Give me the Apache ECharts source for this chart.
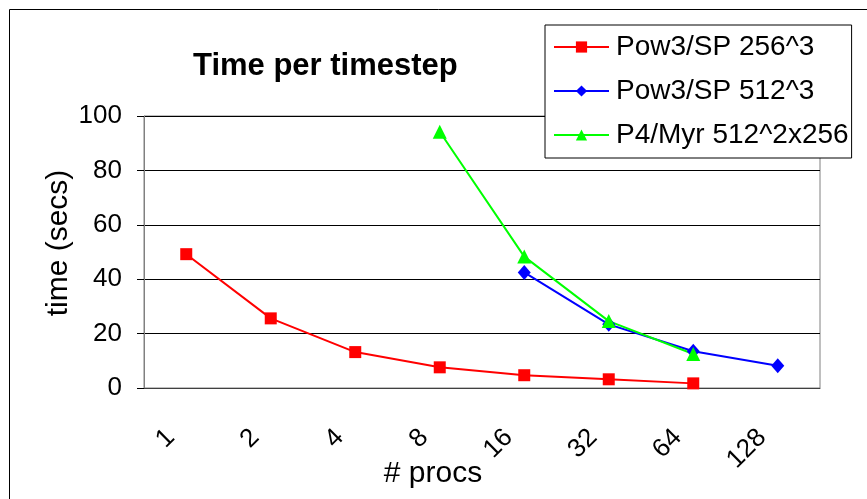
<!DOCTYPE html>
<html>
<head>
<meta charset="utf-8">
<script src="https://cdn.jsdelivr.net/npm/echarts@6/dist/echarts.min.js"></script>
<style>
  html, body { margin: 0; padding: 0; background: #fff; }
  #chart { width: 867px; height: 499px; }
</style>
</head>
<body>
<div id="chart"></div>
<script>
// procs (log2 categories)
const procs = ['1', '2', '4', '8', '16', '32', '64', '128']
const pow3Sp256 = [49.2, 25.6, 13.2, 7.6, 4.7, 3.2, 1.7, null]
const pow3Sp512 = [null, null, null, null, 42.5, 23.4, 13.5, 8.2]
const p4Myr512 = [null, null, null, 94.2, 48.3, 24.6, 12.5, null]
const yTicks = { min: 0, max: 100, interval: 20 }

const font = '"Liberation Sans", Arial, sans-serif'
const chart = echarts.init(document.getElementById('chart'))

const option = {
  animation: false,
  backgroundColor: '#fff',
  title: {
    text: 'Time per timestep',
    left: 188,
    top: 46,
    textStyle: { fontFamily: font, fontSize: 31, fontWeight: 'bold', color: '#000' }
  },
  legend: {
    left: 545,
    top: 25,
    orient: 'vertical',
    padding: [8, 3, 9, 8],
    itemWidth: 55,
    itemHeight: 14,
    itemGap: 16,
    borderColor: '#000',
    borderWidth: 1,
    backgroundColor: '#fff',
    textStyle: { fontFamily: font, fontSize: 28, color: '#000', lineHeight: 28, padding: [0, 0, 0, 2] },
    data: ['Pow3/SP 256^3', 'Pow3/SP 512^3', 'P4/Myr 512^2x256']
  },
  grid: {
    left: 144, right: 47, top: 116, bottom: 111,
    containLabel: false,
    outerBoundsMode: 'none',
    show: true, borderColor: '#808080', borderWidth: 1
  },
  xAxis: {
    type: 'category',
    data: procs,
    boundaryGap: true,
    name: '# procs',
    nameLocation: 'middle',
    nameGap: 71,
    nameMoveOverlap: false,
    nameTextStyle: { fontFamily: font, fontSize: 30, color: '#000', padding: [0, 98, 0, 0] },
    axisLine: { lineStyle: { color: '#404040', width: 1 } },
    axisTick: { length: 7, lineStyle: { color: '#000' } },
    axisLabel: {
      interval: 0, rotate: 45, margin: 30,
      padding: [0, 22, 40, 0],
      fontFamily: font, fontSize: 26, color: '#000'
    },
    splitLine: { show: false }
  },
  yAxis: {
    type: 'value',
    min: yTicks.min, max: yTicks.max, interval: yTicks.interval,
    name: 'time (secs)',
    nameLocation: 'middle',
    nameGap: 70,
    nameMoveOverlap: false,
    nameTextStyle: { fontFamily: font, fontSize: 30, color: '#000', padding: [0, 0, 0, 18] },
    axisLine: { show: true, lineStyle: { color: '#808080', width: 1 } },
    axisTick: { show: true, length: 7, lineStyle: { color: '#000' } },
    axisLabel: { margin: 22, fontFamily: font, fontSize: 26, color: '#000' },
    splitLine: { lineStyle: { color: '#000', width: 1 } }
  },
  graphic: [{
    type: 'rect', z: -10, silent: true,
    shape: { x: 9.5, y: 9.5, width: 900, height: 600 },
    style: { fill: 'none', stroke: '#000', lineWidth: 1 }
  }],
  series: [
    {
      name: 'Pow3/SP 256^3', type: 'line', data: pow3Sp256,
      symbol: 'rect', symbolSize: 12, showAllSymbol: true,
      lineStyle: { color: '#ff0000', width: 2 },
      itemStyle: { color: '#ff0000' }
    },
    {
      name: 'Pow3/SP 512^3', type: 'line', data: pow3Sp512,
      symbol: 'diamond', symbolSize: [13, 15], showAllSymbol: true,
      lineStyle: { color: '#0000ff', width: 2 },
      itemStyle: { color: '#0000ff' }
    },
    {
      name: 'P4/Myr 512^2x256', type: 'line', data: p4Myr512,
      symbol: 'triangle', symbolSize: 14, showAllSymbol: true,
      lineStyle: { color: '#00ff00', width: 2 },
      itemStyle: { color: '#00ff00' }
    }
  ]
}

chart.setOption(option)
</script>
</body>
</html>
